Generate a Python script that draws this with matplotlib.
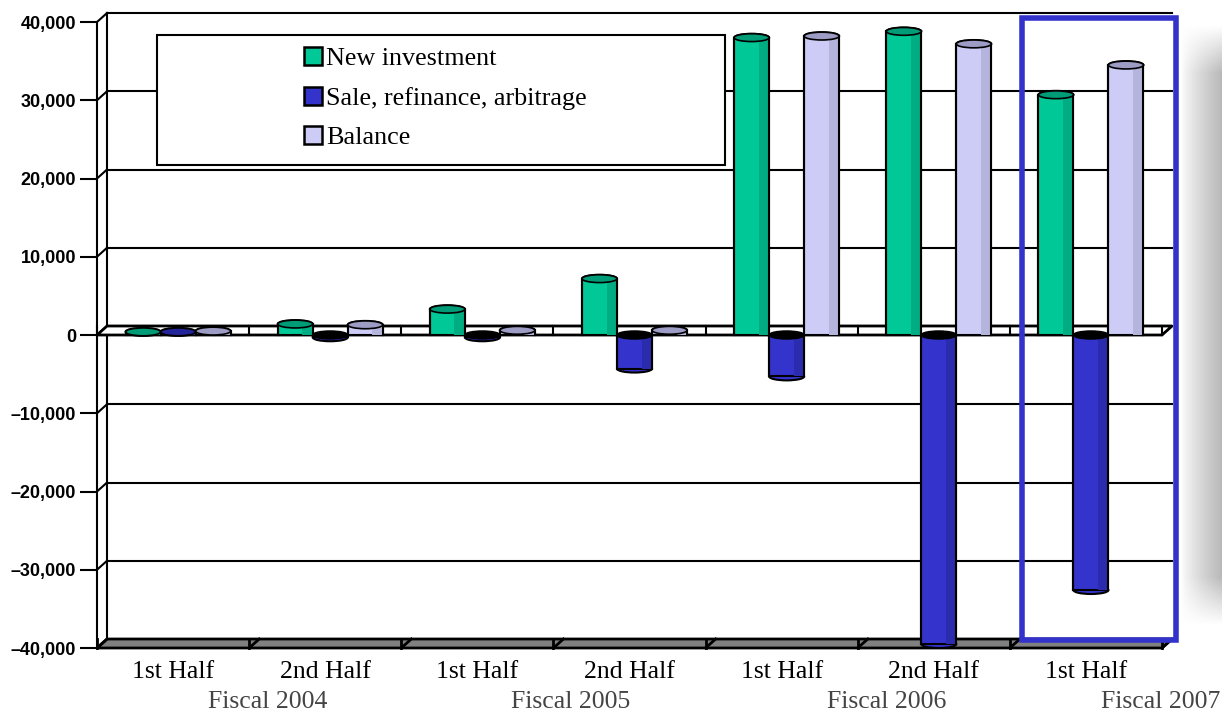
import numpy as np
import matplotlib.pyplot as plt
from matplotlib.patches import Rectangle, Ellipse, Polygon
from matplotlib.lines import Line2D
from matplotlib.ticker import FuncFormatter

halves = ['1st Half', '2nd Half', '1st Half', '2nd Half', '1st Half', '2nd Half', '1st Half']
fiscal_years = ['Fiscal 2004', 'Fiscal 2005', 'Fiscal 2006', 'Fiscal 2007']
fiscal_pos = [1.12, 3.11, 5.19, 6.99]
series_names = ['New investment', 'Sale, refinance, arbitrage', 'Balance']
new_investment = [400, 1400, 3300, 7200, 38000, 38800, 30700]
sale_refinance = [400, -300, -300, -4300, -5300, -39500, -32600]
balance = [500, 1300, 600, 600, 38200, 37200, 34500]
yticks = np.arange(-40000, 40001, 10000)

face = ['#00C896', '#3434CC', '#CCCCF7']
side = ['#00AC82', '#2B2BAD', '#B4B4DD']
cap = ['#009C78', '#23239A', '#9C9CC4']

serif = 'Liberation Serif'

fig = plt.figure(figsize=(12.22, 7.15), dpi=100)
ax = fig.add_axes([97/1222, 1-648/715, 1065/1222, 626/715])
ax.set_xlim(0, 7)
ax.set_ylim(-40000, 40000)

dx, dy = 0.066, 1150   # depth offset of back wall
w = 0.23
ncat = len(halves)

# back wall grid
for v in yticks[1:]:
    ax.plot([dx, ncat+dx], [v+dy, v+dy], color='black', lw=1.5, zorder=1, clip_on=False)
    ax.plot([0, dx], [v, v+dy], color='black', lw=1.5, zorder=1, clip_on=False)
ax.plot([dx, dx], [-40000+dy, 40000+dy], color='black', lw=1.5, zorder=1, clip_on=False)

# floor slab
ax.add_patch(Polygon([[0, -40000], [ncat, -40000], [ncat+dx, -40000+dy], [dx, -40000+dy]],
                     closed=True, facecolor='#808080', edgecolor='black', lw=2, zorder=2, clip_on=False))
# zero slab
ax.add_patch(Polygon([[0, 0], [ncat, 0], [ncat+dx, dy], [dx, dy]],
                     closed=True, facecolor='white', edgecolor='black', lw=2, zorder=2, clip_on=False))
for i in range(ncat + 1):
    ax.plot([i, i+dx], [-40000, -40000+dy], color='black', lw=2, zorder=2, clip_on=False)
    ax.plot([i, i], [-40000, -40000+dy], color='black', lw=2, zorder=2, clip_on=False)
    ax.plot([i, i], [0, dy], color='black', lw=1.5, zorder=2, clip_on=False)

# bars
cap_h = 1000
for s, vals in enumerate([new_investment, sale_refinance, balance]):
    for i, v in enumerate(vals):
        x = i + 0.5 + dx/2 + (s - 1) * w
        ax.add_patch(Ellipse((x, v), w, cap_h, facecolor=face[s], edgecolor='black', lw=1.5, zorder=3))
        ax.bar(x, v, width=w, color=face[s], edgecolor='black', linewidth=1.5, zorder=4)
        ax.bar(x + w/2, v, width=-w*0.3, align='edge', color=side[s], linewidth=0, zorder=4)
        ax.plot([x + w/2, x + w/2], [0, v], color='black', lw=1.5, zorder=4)
        ax.plot([x - w/2, x - w/2], [0, v], color='black', lw=1.5, zorder=4)
        if v > 0:
            ax.add_patch(Ellipse((x, v), w, cap_h, facecolor=cap[s], edgecolor='black', lw=1.2, zorder=5))
        else:
            ax.add_patch(Ellipse((x, 0), w, cap_h, facecolor='black', edgecolor='black', lw=1.2, zorder=5))

# axes styling
for sp in ['top', 'right', 'bottom']:
    ax.spines[sp].set_visible(False)
ax.spines['left'].set_linewidth(1.5)
ax.set_yticks(yticks)
ax.yaxis.set_major_formatter(FuncFormatter(lambda v, p: f'{v:,.0f}'.replace('-', '\u2013')))
ax.tick_params(axis='y', length=12, width=1.5, pad=3)
for lab in ax.get_yticklabels():
    lab.set_fontfamily('Liberation Sans')
    lab.set_fontweight('bold')
    lab.set_fontsize(13)
ax.set_xticks(np.arange(ncat) + 0.5)
ax.set_xticklabels(halves, fontfamily=serif, fontsize=18.5)
ax.tick_params(axis='x', length=0, pad=9)
for name, xp in zip(fiscal_years, fiscal_pos):
    ax.text(xp, -0.087, name, transform=ax.get_xaxis_transform(), ha='center', va='center',
            fontfamily=serif, fontsize=18.5, color='#444444')

# legend
fig.patches.append(Rectangle((157/1222, 1-165/715), 568/1222, 130/715, transform=fig.transFigure,
                             facecolor='white', edgecolor='black', lw=1.5, zorder=6))
handles = [Line2D([], [], marker='s', ls='none', markersize=12.5, markerfacecolor=face[s],
                  markeredgecolor='black', markeredgewidth=1.8) for s in range(3)]
leg = fig.legend(handles, series_names, loc='upper left', bbox_to_anchor=(290/1222, 1-34/715),
                 frameon=False, prop={'family': serif, 'size': 18.8}, handlelength=0.75,
                 handletextpad=0.12, labelspacing=0.62, borderpad=0)
leg.set_zorder(8)

# highlight box
ax.add_patch(Rectangle((6.08, -38980), 1.01, 79500, fill=False, edgecolor='#3333CC', lw=4,
                       zorder=7, clip_on=False))

# soft shadow at right edge
sax = fig.add_axes([1176/1222, 1-625/715, 46/1222, 600/715])
sax.axis('off')
gx = np.clip((np.linspace(0, 1, 46) - 0.1) / 0.9, 0, 1) ** 0.8
gy = np.minimum(np.clip(np.linspace(0, 1, 600) / 0.08, 0, 1), np.clip((1 - np.linspace(0, 1, 600)) / 0.08, 0, 1))
alpha = 0.5 * np.outer(gy, gx)
img = np.zeros((600, 46, 4))
img[..., :3] = 0.45
img[..., 3] = alpha
sax.imshow(img, aspect='auto', extent=(0, 1, 0, 1))

fig.savefig('out.png', dpi=100)
